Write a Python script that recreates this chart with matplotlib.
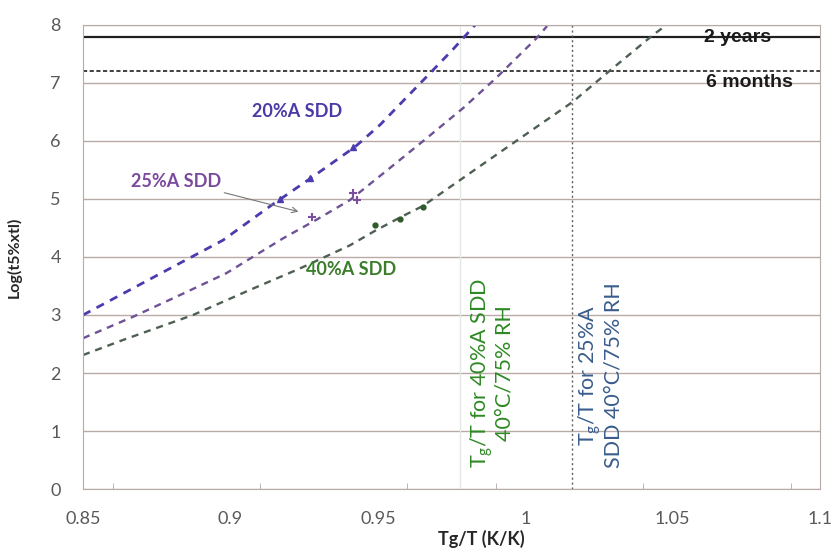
import matplotlib
matplotlib.use("Agg")
import matplotlib.pyplot as plt

plt.rcParams['font.family'] = ['Lato', 'DejaVu Sans']

# curves (Tg/T, log t)
x20 = [0.85, 0.8647, 0.8794, 0.8975, 0.9133, 0.927, 0.9423, 0.9508, 0.958, 0.9683, 0.9755, 0.983]
y20 = [3.0, 3.4, 3.8, 4.29, 4.87, 5.35, 5.9, 6.28, 6.66, 7.2, 7.58, 8.0]
x25 = [0.85, 0.867, 0.884, 0.8986, 0.9178, 0.9291, 0.9405, 0.954, 0.9666, 0.979, 0.990, 1.004, 1.0074]
y25 = [2.6, 2.97, 3.37, 3.72, 4.32, 4.64, 4.98, 5.53, 6.05, 6.57, 7.08, 7.78, 7.98]
x40 = [0.85, 0.8636, 0.8873, 0.9065, 0.9235, 0.9405, 0.949, 0.9575, 0.9653, 0.989, 1.016, 1.0277, 1.0434, 1.0474]
y40 = [2.31, 2.57, 3.0, 3.43, 3.8, 4.2, 4.45, 4.68, 4.88, 5.72, 6.67, 7.17, 7.83, 7.98]

# measured points
px20 = [0.9168, 0.927, 0.9416]
py20 = [5.0, 5.36, 5.9]
px25 = [0.9277, 0.9416, 0.943]
py25 = [4.69, 5.1, 4.98]
px40 = [0.949, 0.9575, 0.9653]
py40 = [4.55, 4.66, 4.86]

two_years = 7.8
six_months = 7.2
tg_40 = 0.978
tg_25 = 1.016

fig = plt.figure(figsize=(8.37, 5.55), dpi=100)
ax = fig.add_axes([0.0992, 0.1189, 0.8805, 0.8361])

grid_c = '#b8aaa6'
ax.set_xlim(0.85, 1.1)
ax.set_ylim(0, 8)
ax.set_yticks(range(0, 9))
ax.set_xticks([0.85, 0.9, 0.95, 1.0, 1.05, 1.1])
ax.set_xticklabels(['0.85', '0.9', '0.95', '1', '1.05', '1.1'])
ax.set_xticks([0.86, 0.91, 0.96, 0.99, 1.04, 1.09], minor=True)
ax.yaxis.grid(True, color=grid_c, lw=1)
ax.set_axisbelow(True)
for s in ['left', 'right', 'bottom', 'top']:
    ax.spines[s].set_color(grid_c)
ax.tick_params(axis='both', colors='#595959', labelsize=13, length=0)
ax.tick_params(axis='x', pad=16)
ax.tick_params(axis='x', which='minor', length=4, direction='in', color=grid_c)
ax.tick_params(axis='y', pad=16)

ax.axvline(tg_40, color='#e2e9e4', lw=1, zorder=1)
ax.axhline(two_years, color='#202020', lw=1.6)
ax.axhline(six_months, color='#202020', lw=1.2, ls=(0, (2.5, 1.5)))
ax.axvline(tg_25, color='#606060', lw=1, ls=(0, (1.5, 2)))

ax.plot(x20, y20, color='#4a3cae', lw=2, ls=(0, (3, 2.5)))
ax.plot(x25, y25, color='#6e5196', lw=1.7, ls=(0, (3, 2.5)))
ax.plot(x40, y40, color='#4f5f52', lw=1.7, ls=(0, (3, 2.5)))

ax.plot(px20, py20, '^', color='#4a3cae', ms=5, ls='none')
ax.plot(px25, py25, '+', color='#7b4fa0', ms=5.5, mew=1.5, ls='none')
ax.plot(px40, py40, 'o', color='#2f5a2a', ms=3.5, ls='none')

ax.text(0.9225, 6.5, '20%A SDD', color='#4b3ba6', fontsize=13, fontweight='bold', ha='center', va='center')
ax.text(0.8815, 5.3, '25%A SDD', color='#7b4a9e', fontsize=13, fontweight='bold', ha='center', va='center')
ax.annotate('', xy=(0.924, 4.77), xytext=(0.897, 5.12),
            arrowprops=dict(arrowstyle='->', color='#777777', lw=0.8))
ax.text(0.941, 3.78, '40%A SDD', color='#3a7d2a', fontsize=13, fontweight='bold', ha='center', va='center')

ax.text(1.0722, 7.79, '2 years', family='Liberation Sans', fontsize=14, fontweight='bold',
        color='#1a1a1a', ha='center', va='center')
ax.text(1.0759, 7.0, '6 months', family='Liberation Sans', fontsize=14, fontweight='bold',
        color='#1a1a1a', ha='center', va='center')

ax.text(0.9886, 0.36, '$\\mathregular{T_g}$/T for 40%A SDD\n40°C/75% RH', rotation=90,
        color='#2e8a24', fontsize=15.5, ha='center', va='bottom', linespacing=1.0)
ax.text(1.0254, 0.36, '$\\mathregular{T_g}$/T for 25%A\nSDD 40°C/75% RH', rotation=90,
        color='#3a5d8c', fontsize=15.5, ha='center', va='bottom', linespacing=1.0)

ax.set_xlabel('Tg/T (K/K)', fontsize=13, fontweight='bold', color='#262626')
ax.xaxis.set_label_coords(0.54, -0.088)
ax.set_ylabel('Log(t5%xtl)', fontsize=11.5, fontweight='bold', color='#262626')
ax.yaxis.set_label_coords(-0.083, 0.5)

fig.savefig('out.png', dpi=100)
